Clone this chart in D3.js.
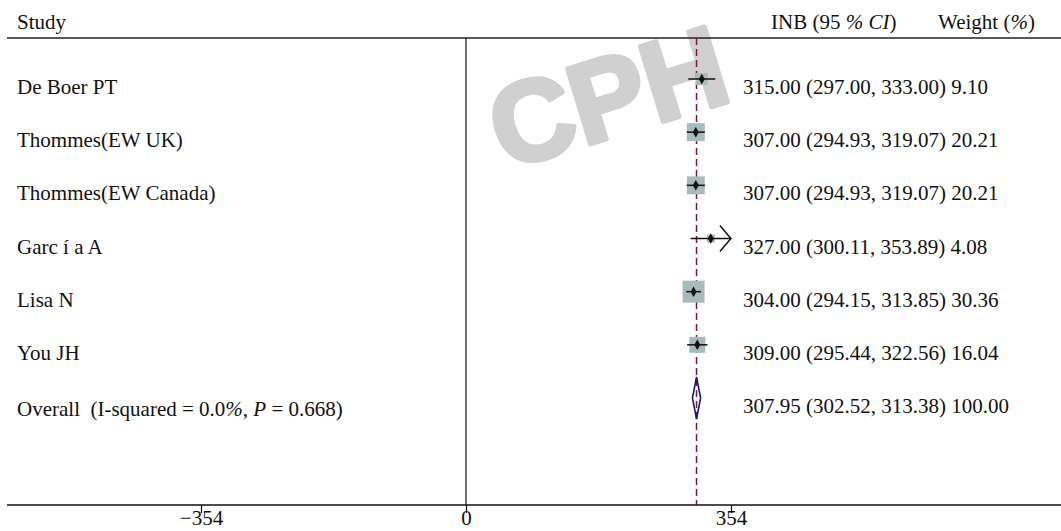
<!DOCTYPE html>
<html>
<head>
<meta charset="utf-8">
<script src="https://cdn.jsdelivr.net/npm/d3@7"></script>
<style>
  html, body { margin: 0; padding: 0; background: #fff; }
  svg { display: block; }
  text { font-family: "Liberation Serif", "Times New Roman", serif; fill: #111; white-space: pre; }
</style>
</head>
<body>
<svg id="chart" width="1061" height="531"></svg>
<script>
// ---- data ----
const studies = ["De Boer PT", "Thommes(EW UK)", "Thommes(EW Canada)", "Garc í a A", "Lisa N", "You JH"];
const estimates = [315.00, 307.00, 307.00, 327.00, 304.00, 309.00];
const lowerCI = [297.00, 294.93, 294.93, 300.11, 294.15, 295.44];
const upperCI = [333.00, 319.07, 319.07, 353.89, 313.85, 322.56];
const weights = [9.10, 20.21, 20.21, 4.08, 30.36, 16.04];
const overallLabel = "Overall";
const overallEst = 307.95;
const overallLower = 302.52;
const overallUpper = 313.38;
const overallWeight = 100.00;
const iSquared = "0.0";
const pValue = "0.668";
const tickValues = [-354, 0, 354];

// ---- layout ----
const svg = d3.select("#chart");
const W = 1061, H = 531;
const topY = 38, axisY = 505;

const x = d3.scaleLinear().domain([-354, 354]).range([201, 731]);
const rowKeys = studies.concat([overallLabel]);
const y = d3.scalePoint().domain(rowKeys).range([79, 398]);
const side = d3.scaleSqrt().domain([0, d3.max(weights)]).range([0, 22]);

// watermark
svg.append("text")
  .attr("transform", "translate(608,97) rotate(-17)")
  .attr("text-anchor", "middle")
  .attr("dominant-baseline", "central")
  .style("font-family", "'Liberation Sans', Arial, sans-serif")
  .style("font-weight", "bold")
  .style("font-size", "114px")
  .style("fill", "#d0d0d0")
  .style("stroke", "#d0d0d0")
  .style("stroke-width", "5px")
  .style("stroke-linejoin", "round")
  .text("CPH");

// header
svg.append("text").attr("x", 17).attr("y", 29).style("font-size", "21px").text("Study");
const hdr = svg.append("text").attr("x", 771).attr("y", 29).style("font-size", "21px");
hdr.append("tspan").text("INB (95 ");
hdr.append("tspan").style("font-style", "italic").text("% CI");
hdr.append("tspan").text(")");
const hdr2 = svg.append("text").attr("x", 938).attr("y", 29).style("font-size", "21px");
hdr2.append("tspan").text("Weight (");
hdr2.append("tspan").style("font-style", "italic").text("%");
hdr2.append("tspan").text(")");

// top rule
svg.append("line").attr("x1", 7).attr("x2", W).attr("y1", topY).attr("y2", topY)
  .attr("stroke", "#222").attr("stroke-width", 1.5);

// zero line
svg.append("line").attr("x1", x(0)).attr("x2", x(0)).attr("y1", topY).attr("y2", axisY)
  .attr("stroke", "#111").attr("stroke-width", 1.2);

// overall dashed line
svg.append("line").attr("x1", x(overallEst)).attr("x2", x(overallEst)).attr("y1", topY).attr("y2", axisY)
  .attr("stroke", "#7d1634").attr("stroke-width", 1.5).attr("stroke-dasharray", "7,4");

// axis
const axis = d3.axisBottom(x).tickValues(tickValues).tickSize(8).tickPadding(-3).tickFormat(d3.format("d"));
const gAxis = svg.append("g").attr("transform", `translate(0,${axisY})`).call(axis);
gAxis.select(".domain").remove();
gAxis.selectAll(".tick line").attr("stroke", "#111").attr("stroke-width", 1.2);
gAxis.selectAll(".tick text").style("font-family", "'Liberation Serif', serif").style("font-size", "21px").attr("fill", "#111");
svg.append("line").attr("x1", 7).attr("x2", W).attr("y1", axisY).attr("y2", axisY)
  .attr("stroke", "#111").attr("stroke-width", 1.6);

// study rows
const rows = studies.map((s, i) => ({ s, est: estimates[i], lo: lowerCI[i], hi: upperCI[i], w: weights[i] }));

const g = svg.append("g");
// squares
g.selectAll("rect.box").data(rows).enter().append("rect")
  .attr("class", "box")
  .attr("x", d => x(d.est) - side(d.w) / 2)
  .attr("y", d => y(d.s) - side(d.w) / 2)
  .attr("width", d => side(d.w))
  .attr("height", d => side(d.w))
  .attr("fill", "#a9babe");
// CI lines
g.selectAll("line.ci").data(rows).enter().append("line")
  .attr("class", "ci")
  .attr("x1", d => x(d.lo)).attr("x2", d => x(d.hi))
  .attr("y1", d => y(d.s)).attr("y2", d => y(d.s))
  .attr("stroke", "#111").attr("stroke-width", 1.5);
// arrow for truncated CI (Garcia)
g.selectAll("path.arrow").data(rows.filter(d => d.s === "Garc í a A")).enter().append("path")
  .attr("class", "arrow")
  .attr("d", d => {
    const tx = x(d.hi), ty = y(d.s);
    return `M${tx - 11},${ty - 13} L${tx},${ty} L${tx - 11},${ty + 13}`;
  })
  .attr("fill", "none").attr("stroke", "#111").attr("stroke-width", 1.5);
// point markers
g.selectAll("path.pt").data(rows).enter().append("path")
  .attr("class", "pt")
  .attr("transform", d => `translate(${x(d.est)},${y(d.s)})`)
  .attr("d", d3.symbol().type(d3.symbolDiamond).size(32))
  .attr("fill", "#111");

// labels
g.selectAll("text.lab").data(rows).enter().append("text")
  .attr("class", "lab")
  .attr("x", 17).attr("y", d => y(d.s) + 15)
  .style("font-size", "21px")
  .text(d => d.s);
const f2 = d3.format(".2f");
g.selectAll("text.val").data(rows).enter().append("text")
  .attr("class", "val")
  .attr("x", 743).attr("y", d => y(d.s) + 15)
  .style("font-size", "21px")
  .text(d => `${f2(d.est)} (${f2(d.lo)}, ${f2(d.hi)}) ${f2(d.w)}`);

// overall
const oy = y(overallLabel);
const dh = 21;
svg.append("path")
  .attr("d", `M${x(overallLower)},${oy} L${x(overallEst)},${oy - dh} L${x(overallUpper)},${oy} L${x(overallEst)},${oy + dh} Z`)
  .attr("fill", "none").attr("stroke", "#1c1c6e").attr("stroke-width", 1.6);

const ol = svg.append("text").attr("x", 17).attr("y", oy + 18).style("font-size", "21px");
ol.append("tspan").text(`${overallLabel}  (I-squared = ${iSquared}`);
ol.append("tspan").style("font-style", "italic").text("%");
ol.append("tspan").text(", ");
ol.append("tspan").style("font-style", "italic").text("P");
ol.append("tspan").text(` = ${pValue})`);

svg.append("text").attr("x", 743).attr("y", oy + 15).style("font-size", "21px")
  .text(`${f2(overallEst)} (${f2(overallLower)}, ${f2(overallUpper)}) ${f2(overallWeight)}`);
</script>
</body>
</html>
